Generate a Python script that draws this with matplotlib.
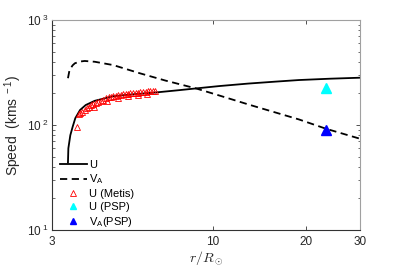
import matplotlib
matplotlib.use('Agg')
import matplotlib.pyplot as plt

plt.rcParams['font.family'] = ['Liberation Sans', 'DejaVu Sans']
plt.rcParams['mathtext.fontset'] = 'custom'
plt.rcParams['mathtext.rm'] = 'Liberation Sans'
plt.rcParams['mathtext.it'] = 'Liberation Sans:italic'

# model curves (r in solar radii, speed in km/s)
r_u = [3.38, 3.39, 3.44, 3.50, 3.57, 3.70, 3.86, 4.13, 4.74, 5.50, 6.50, 7.8, 8.8, 10.5, 13.0, 16.0, 19.0, 24.0, 30.0]
u = [44, 60, 80, 96, 116, 139, 155, 170, 188, 196, 204, 215, 223, 235, 248, 259, 268, 276, 282]

r_va = [3.38, 3.42, 3.50, 3.56, 3.70, 3.83, 4.13, 4.74, 5.78, 7.0, 8.8, 10.35, 13.2, 19.0, 23.3, 30.0]
va = [279, 334, 370, 387, 402, 407, 400, 372, 311, 265, 223, 193, 155, 113, 92, 74]

# Metis
r_metis = [3.61, 3.66, 3.70, 3.75, 3.84, 3.89, 3.96, 4.03, 4.08, 4.10, 4.16, 4.24, 4.32, 4.40,
           4.50, 4.52, 4.58, 4.65, 4.74, 4.84, 4.90, 4.92, 5.01, 5.10, 5.20, 5.29, 5.30, 5.39,
           5.49, 5.61, 5.70, 5.71, 5.81, 5.93, 6.05, 6.10, 6.14, 6.25, 6.37, 6.47]
u_metis = [96, 127, 131, 134, 139, 144, 149, 155, 159, 150, 161, 167, 170, 173,
           180, 170, 184, 186, 189, 190, 181, 193, 193, 196, 197, 197, 188, 200,
           200, 203, 193, 203, 207, 207, 208, 199, 211, 211, 212, 212]

# PSP
r_psp = [23.3]
u_psp = [225]
va_psp = [89]

fig = plt.figure(figsize=(3.97, 2.66), dpi=100)
ax = fig.add_axes([0.131, 0.135, 0.776, 0.79])

ax.plot(r_u, u, '-', color='k', lw=1.3, label='U')
ax.plot(r_va, va, '--', color='k', lw=1.3, dashes=(4, 2.5), label=r'$\mathregular{V_A}$')
ax.plot(r_metis, u_metis, '^', mfc='none', mec='red', ms=4, mew=0.6, label='U (Metis)')
ax.plot(r_psp, u_psp, '^', color='cyan', ms=7, label='U (PSP)')
ax.plot(r_psp, va_psp, '^', color='blue', ms=7, label=r'$\mathregular{V_A}$(PSP)')

ax.set_xscale('log')
ax.set_yscale('log')
ax.set_xlim(3, 30)
ax.set_ylim(10, 1000)
ax.set_xticks([3, 10, 20, 30])
ax.set_xticklabels(['3', '10', '20', '30'])
ax.xaxis.set_minor_locator(matplotlib.ticker.NullLocator())
ax.set_yticks([10, 100, 1000])
ax.set_yticklabels([r'$\mathregular{10^{\ 1}}$', r'$\mathregular{10^{\ 2}}$', r'$\mathregular{10^{\ 3}}$'])

ax.tick_params(which='both', direction='in', top=True, right=True, labelsize=8.5,
               color='#333333', labelcolor='#262626')
ax.tick_params(which='major', length=3, width=0.6, pad=4)
ax.tick_params(axis='y', which='major', pad=2.5)
ax.tick_params(which='minor', length=1.8, width=0.5)

for s in ['left', 'bottom']:
    ax.spines[s].set_color('#333333')
    ax.spines[s].set_linewidth(0.8)
for s in ['top', 'right']:
    ax.spines[s].set_color('#a0a0a0')
    ax.spines[s].set_linewidth(0.8)

ax.set_ylabel(r'Speed  (kms$^{\mathregular{\ -1}}$)', fontsize=10, color='#262626')
ax.yaxis.set_label_coords(-0.09, 0.5)
ax.set_xlabel(r'$r/R_\odot$', fontsize=10, math_fontfamily='cm', color='#262626', labelpad=1)

leg = ax.legend(loc='upper left', bbox_to_anchor=(0.015, 0.35), fontsize=8, frameon=False,
                handlelength=2.4, handletextpad=0.25, labelspacing=0.25, borderpad=0.2,
                borderaxespad=0.1)
for h in leg.legend_handles[2:]:
    h.set_markersize(5)

fig.savefig('out.png', dpi=100)
